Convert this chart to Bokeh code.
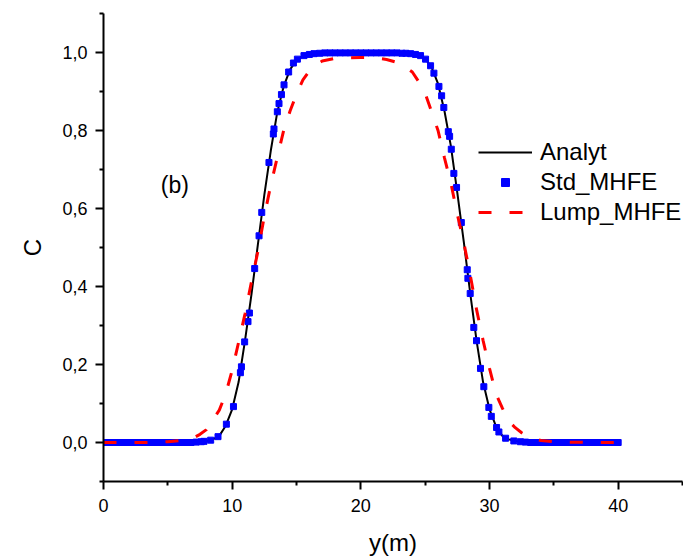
from bokeh.plotting import figure
from bokeh.models import FixedTicker, CustomJSTickFormatter, Legend, LegendItem, Label
from bokeh.embed import file_html
from bokeh.resources import INLINE

# ---- data ----
analyt_x = [0, 7, 8, 8.5, 9, 9.5, 10, 10.5, 11, 11.5, 12, 12.5, 13, 13.5, 14, 14.5, 15, 15.5, 16, 17, 18, 20,
            22, 23, 24, 24.5, 25, 25.5, 26, 26.5, 27, 27.5, 28, 28.5, 29, 29.5, 30, 30.5, 31, 31.5, 32, 33, 40]
analyt_y = [0, 0.001, 0.004, 0.008, 0.017, 0.043, 0.085, 0.155, 0.262, 0.38, 0.508, 0.635, 0.748, 0.846, 0.913,
            0.956, 0.981, 0.991, 0.995, 0.998, 0.999, 0.999, 0.999, 0.998, 0.996, 0.993, 0.984, 0.962, 0.92, 0.85,
            0.76, 0.64, 0.515, 0.383, 0.26, 0.155, 0.085, 0.042, 0.017, 0.008, 0.004, 0.001, 0]

std_x = [0, 0.4, 0.8, 1.2, 1.6, 2.0, 2.4, 2.8, 3.2, 3.6, 4.0, 4.4, 4.8, 5.2, 5.6, 6.0, 6.4, 6.8, 7.2, 7.6,
         7.81, 8.33, 8.90, 9.55, 10.10, 10.64, 10.72, 10.97, 11.23, 11.34, 11.75, 12.09, 12.30, 12.86, 13.20,
         13.25, 13.51, 13.64, 13.83, 14.03, 14.39, 14.76, 15.07, 15.58, 16.0, 16.36, 16.8, 17.2, 17.6, 18.0,
         18.4, 18.8, 19.2, 19.6, 20.0, 20.4, 20.8, 21.2, 21.6, 22.0, 22.4, 22.8, 23.2, 23.5, 23.87, 24.25, 24.64,
         25.03, 25.42, 25.68, 26.07, 26.28, 26.45, 26.80, 26.90, 27.03, 27.23, 27.44, 27.81, 28.27, 28.32,
         28.50, 28.78, 28.99, 29.30, 29.56, 29.95, 30.14, 30.55, 30.73, 31.25, 31.89, 32.4, 32.8, 33.2, 33.6,
         34.0, 34.4, 34.8, 35.2, 35.6, 36.0, 36.4, 36.8, 37.2, 37.6, 38.0, 38.4, 38.8, 39.2, 39.6, 40.0]
std_y = [0, 0, 0, 0, 0, 0, 0, 0, 0, 0, 0, 0, 0, 0, 0, 0, 0, 0, 0.001, 0.002,
         0.003, 0.006, 0.015, 0.047, 0.092, 0.179, 0.194, 0.258, 0.310, 0.332, 0.446, 0.530, 0.590, 0.718, 0.791,
         0.804, 0.848, 0.869, 0.892, 0.917, 0.950, 0.973, 0.983, 0.992, 0.995, 0.997, 0.998, 0.999, 0.999, 0.999,
         0.999, 0.999, 0.999, 0.999, 0.999, 0.999, 0.999, 0.999, 0.999, 0.999, 0.999, 0.999, 0.998, 0.998, 0.997,
         0.995, 0.992, 0.983, 0.966, 0.947, 0.913, 0.889, 0.859, 0.797, 0.785, 0.752, 0.690, 0.654, 0.564, 0.443,
         0.421, 0.382, 0.295, 0.261, 0.190, 0.143, 0.090, 0.067, 0.0385, 0.027, 0.011, 0.004, 0.002, 0.001, 0,
         0, 0, 0, 0, 0, 0, 0, 0, 0, 0, 0, 0, 0, 0, 0, 0, 0, 0, 0]

lump_x = [0, 2, 4, 5, 6, 6.5, 7, 7.5, 8, 8.5, 9, 9.5, 10, 10.5, 11, 11.5, 12, 12.5, 13, 13.5, 14, 14.5, 15,
          15.5, 16, 16.5, 17, 18, 19, 20, 21, 22, 23, 24, 24.5, 25, 25.5, 26, 26.5, 27, 27.5, 28, 28.5, 29,
          29.5, 30, 30.5, 31, 31.5, 32, 32.5, 33, 33.5, 34, 35, 36, 38, 40]
lump_y = [0, 0, 0, 0.002, 0.005, 0.008, 0.012, 0.021, 0.033, 0.058, 0.083, 0.125, 0.185, 0.257, 0.33, 0.412,
          0.49, 0.58, 0.66, 0.73, 0.80, 0.85, 0.893, 0.93, 0.953, 0.968, 0.978, 0.985, 0.986, 0.987, 0.987,
          0.982, 0.973, 0.95, 0.925, 0.895, 0.848, 0.80, 0.73, 0.665, 0.585, 0.513, 0.43, 0.34, 0.262, 0.19,
          0.125, 0.088, 0.055, 0.038, 0.025, 0.015, 0.009, 0.005, 0.002, 0.001, 0, 0]

x_major = [0, 10, 20, 30, 40]
x_minor = [5, 15, 25, 35, 45]
y_major = [0.0, 0.2, 0.4, 0.6, 0.8, 1.0]
y_minor = [-0.1, 0.1, 0.3, 0.5, 0.7, 0.9, 1.1]

FONT = "Liberation Sans"

p = figure(width=683, height=559, x_range=(0, 45), y_range=(-0.1, 1.1),
           output_backend="svg", toolbar_location=None,
           min_border_left=103, min_border_right=1, min_border_top=13, min_border_bottom=78)
p.outline_line_color = None
p.xgrid.visible = False
p.ygrid.visible = False

r_an = p.line(analyt_x, analyt_y, line_color="black", line_width=2)
r_std = p.scatter(std_x, std_y, marker="square", size=6, fill_color="#0000FF", line_color="#0000FF")
r_lump = p.line(lump_x, lump_y, line_color="#FF0000", line_width=3, line_dash="13 18")

for ax in (p.xaxis[0], p.yaxis[0]):
    ax.axis_line_width = 2
    ax.major_tick_line_width = 2
    ax.minor_tick_line_width = 2
    ax.major_tick_out = 8
    ax.major_tick_in = 0
    ax.minor_tick_out = 4
    ax.minor_tick_in = 0
    ax.major_label_text_font = FONT
    ax.major_label_text_font_size = "18px"
    ax.major_label_text_color = "black"
    ax.axis_label_text_font = FONT
    ax.axis_label_text_font_size = "24px"
    ax.axis_label_text_font_style = "normal"
    ax.axis_label_text_color = "black"

p.xaxis.ticker = FixedTicker(ticks=x_major, minor_ticks=x_minor)
p.yaxis.ticker = FixedTicker(ticks=y_major, minor_ticks=y_minor)
p.yaxis.formatter = CustomJSTickFormatter(code="return tick.toFixed(1).replace('.', ',');")
p.xaxis.axis_label = "y(m)"
p.yaxis.axis_label = "C"
p.xaxis.major_label_standoff = 9
p.yaxis.major_label_standoff = 8
p.xaxis.axis_label_standoff = 14
p.yaxis.axis_label_standoff = 13

p.add_layout(Label(x=5.54, y=0.661, text="(b)", text_font=FONT, text_font_size="23px",
                   text_align="center", text_baseline="middle", text_color="black"))

legend = Legend(items=[LegendItem(label="Analyt", renderers=[r_an]),
                       LegendItem(label="Std_MHFE", renderers=[r_std]),
                       LegendItem(label="Lump_MHFE", renderers=[r_lump])],
                location=(375, 255), padding=0, margin=0, spacing=2,
                glyph_width=54, glyph_height=20, label_height=20, label_standoff=8,
                label_text_font=FONT, label_text_font_size="24px", label_text_color="black",
                border_line_alpha=0, background_fill_alpha=0)
p.add_layout(legend)

open("out.html", "w").write(file_html(p, INLINE))
